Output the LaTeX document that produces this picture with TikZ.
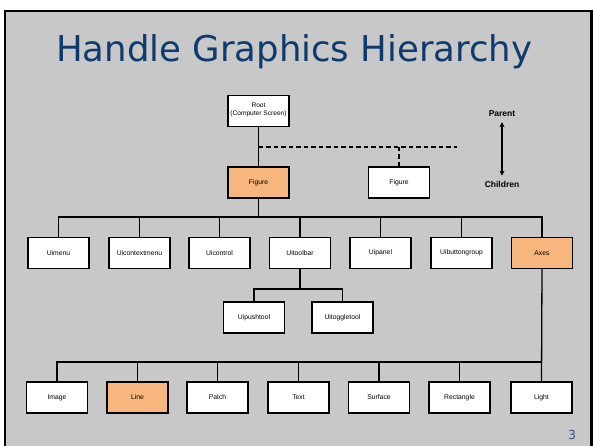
\documentclass[tikz,border=0pt]{standalone}
\usepackage{fontspec}
\setmainfont{Liberation Sans}
\newfontfamily\titlefont{DejaVu Sans}
\usetikzlibrary{arrows.meta}
\definecolor{slidebg}{RGB}{200,200,200}
\definecolor{titleblue}{RGB}{14,58,110}
\definecolor{pagenum}{RGB}{52,86,140}
\definecolor{hilite}{RGB}{247,182,126}
\tikzset{
  objbox/.style={draw=black, line width=1.3pt, fill=white, minimum width=61pt,
    minimum height=31pt, inner sep=0pt, font=\fontsize{6.8}{8}\selectfont, align=center},
  hot/.style={objbox, fill=hilite},
  link/.style={draw=black, line width=1.3pt},
  dlink/.style={link, dash pattern=on 4.5pt off 3pt}
}
\begin{document}
\begin{tikzpicture}[x=1pt,y=-1pt]
\useasboundingbox (0,0) rectangle (594,446);
% slide frame
\begin{scope}
  \clip (0,0) rectangle (594,446);
  \draw[line width=2.2pt, fill=slidebg] (5,11) rectangle (591.5,470);
\end{scope}
% title and page number
\node[anchor=base west, inner sep=0pt, text=titleblue, font=\titlefont\fontsize{35.5}{40}\selectfont]
  (title) at (56,62) {Handle Graphics Hierarchy};
\node[text=pagenum, font=\titlefont\fontsize{12.5}{14}\selectfont, inner sep=0pt] (page) at (572,435) {3};

% top of the hierarchy
\node[objbox] (root) at (258.5,111) {};
\node[font=\fontsize{6.6}{7.2}\selectfont, align=center, inner sep=0pt] (roottxt) at (258.5,110) {Root\\(Computer Screen)};
\node[hot] (fig) at (258.5,182.5) {Figure};
\node[objbox] (fig2) at (399,182.5) {Figure};

% parent / children legend
\node[font=\bfseries\fontsize{8.5}{10}\selectfont, inner sep=0pt] (parent) at (502,114) {Parent};
\node[font=\bfseries\fontsize{8.5}{10}\selectfont, inner sep=0pt] (children) at (502,184) {Children};
\draw[line width=1.6pt, {Stealth[length=5pt,width=5pt]}-{Stealth[length=5pt,width=5pt]}]
  ([yshift=-5pt]parent.south) -- ([yshift=5pt]children.north);

% first level under Figure
\node[objbox] (uimenu) at (58.5,253) {Uimenu};
\node[objbox] (uictx) at (139.5,253) {Uicontextmenu};
\node[objbox] (uictl) at (219.5,253) {Uicontrol};
\node[objbox] (uitb) at (300,253) {Uitoolbar};
\node[objbox] (uipanel) at (380.5,253) {Uipanel};
\node[objbox] (uibg) at (461.5,253) {Uibuttongroup};
\node[hot] (axes) at (542,253) {Axes};

% toolbar children
\node[objbox] (uipush) at (254,317.5) {Uipushtool};
\node[objbox] (uitoggle) at (342.5,317.5) {Uitoggletool};

% axes children
\node[objbox] (image) at (57,397.5) {Image};
\node[hot] (line) at (137.5,397.5) {Line};
\node[objbox] (patch) at (217.5,397.5) {Patch};
\node[objbox] (text) at (298.5,397.5) {Text};
\node[objbox] (surface) at (379,397.5) {Surface};
\node[objbox] (rect) at (459.5,397.5) {Rectangle};
\node[objbox] (light) at (541.5,397.5) {Light};

% bus heights
\coordinate (dashbus) at (457,147);
\coordinate (bus1) at (0,217);
\coordinate (bus2) at (0,289);
\coordinate (bus3) at (0,362);

% root to figures
\draw[link] (root.south) -- (fig.north);
\draw[dlink] (root |- dashbus) -- (dashbus);
\draw[dlink] (fig2.north) -- (fig2 |- dashbus);

% figure to its children
\draw[link] (fig.south) -- (fig |- bus1);
\draw[link] (uimenu.north) -- (uimenu |- bus1) -- (axes |- bus1) -- (axes.north);
\foreach \n in {uictx,uictl,uitb,uipanel,uibg}
  \draw[link] (\n.north) -- (\n |- bus1);

% toolbar to its tools
\draw[link] (uitb.south) -- (uitb |- bus2);
\draw[link] (uipush.north) -- (uipush |- bus2) -- (uitoggle |- bus2) -- (uitoggle.north);

% axes to its children
\draw[link] (axes.south) -- (light.north);
\draw[link] (image.north) -- (image |- bus3) -- (light |- bus3);
\foreach \n in {line,patch,text,surface,rect}
  \draw[link] (\n.north) -- (\n |- bus3);
\end{tikzpicture}
\end{document}
